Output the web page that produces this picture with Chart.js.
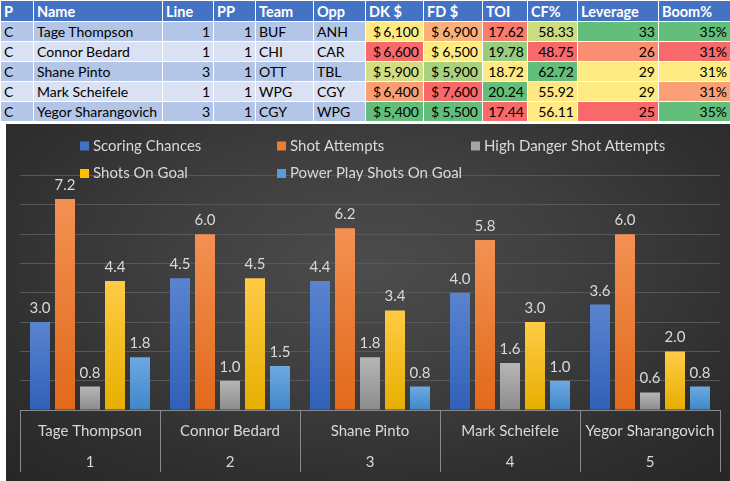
<!DOCTYPE html>
<html>
<head>
<meta charset="utf-8">
<script src="https://cdn.jsdelivr.net/npm/chart.js@4.4.1/dist/chart.umd.min.js"></script>
<style>
  html, body { margin: 0; padding: 0; background: #fff; width: 730px; height: 481px; overflow: hidden; }
  body { position: relative; font-family: Lato, "Liberation Sans", sans-serif; }
  #tbl { position: absolute; left: 0; top: 0; width: 730px; border-collapse: collapse; table-layout: fixed; font-size: 14px; color: #000; }
  #tbl td, #tbl th { border: 1px solid #fff; padding: 0 3px; height: 20px; line-height: 19px; white-space: nowrap; overflow: hidden; box-sizing: border-box; }
  #tbl th { background: #4472C4; color: #fff; font-weight: bold; text-align: left; height: 21px; font-size: 14.5px; }
  #tbl td.r { text-align: right; }
  #tbl td.acc { padding: 0; }
  #tbl td.acc div { display: flex; justify-content: space-between; padding: 0 4px 0 7px; }
  #chartWrap { position: absolute; left: 6px; top: 124px; width: 724px; height: 357px;
    background: radial-gradient(ellipse 75% 85% at 50% 40%, #4c4c4c 0%, #404040 35%, #303030 70%, #252525 100%); }
</style>
</head>
<body>
<table id="tbl"></table>
<div id="chartWrap"><canvas id="c" width="724" height="357"></canvas></div>
<script>
// ---------- table data ----------
const headers = ["P", "Name", "Line", "PP", "Team", "Opp", "DK $", "FD $", "TOI", "CF%", "Leverage", "Boom%"];
const positions = ["C", "C", "C", "C", "C"];
const names = ["Tage Thompson", "Connor Bedard", "Shane Pinto", "Mark Scheifele", "Yegor Sharangovich"];
const lines = [1, 1, 3, 1, 3];
const pp = [1, 1, 1, 1, 1];
const teams = ["BUF", "CHI", "OTT", "WPG", "CGY"];
const opps = ["ANH", "CAR", "TBL", "CGY", "WPG"];
const dkSalary = ["6,100", "6,600", "5,900", "6,400", "5,400"];
const fdSalary = ["6,900", "6,500", "5,900", "7,600", "5,500"];
const toi = ["17.62", "19.78", "18.72", "20.24", "17.44"];
const cfPct = ["58.33", "48.75", "62.72", "55.92", "56.11"];
const leverage = [33, 26, 29, 29, 25];
const boomPct = ["35%", "31%", "31%", "31%", "35%"];

// ---------- chart data ----------
const categoryNames = ["Tage Thompson", "Connor Bedard", "Shane Pinto", "Mark Scheifele", "Yegor Sharangovich"];
const categoryNumbers = ["1", "2", "3", "4", "5"];
const seriesNames = ["Scoring Chances", "Shot Attempts", "High Danger Shot Attempts", "Shots On Goal", "Power Play Shots On Goal"];
const scoringChances = [3.0, 4.5, 4.4, 4.0, 3.6];
const shotAttempts = [7.2, 6.0, 6.2, 5.8, 6.0];
const highDanger = [0.8, 1.0, 1.8, 1.6, 0.6];
const shotsOnGoal = [4.4, 4.5, 3.4, 3.0, 2.0];
const ppShotsOnGoal = [1.8, 1.5, 0.8, 1.0, 0.8];

// ---------- styles ----------
const colWidths = [33, 129, 51, 42, 58, 52, 58, 59, 45, 50, 81, 72];
const rowBg = ["#B4C6E7", "#D9E1F2", "#B4C6E7", "#D9E1F2", "#B4C6E7"];
const dkColors = ["#FFE984", "#F8696B", "#D2DE81", "#FB9D75", "#63BE7B"];
const fdColors = ["#FBB079", "#FFEB84", "#A8D27F", "#F8696B", "#63BE7B"];
const toiColors = ["#F97D6E", "#96CD7E", "#FFE984", "#63BE7B", "#F8696B"];
const cfColors = ["#CBDC81", "#F8696B", "#63BE7B", "#FFE883", "#FFEA84"];
const levColors = ["#63BE7B", "#FA8E72", "#FFEB84", "#FFEB84", "#F8696B"];
const boomColors = ["#63BE7B", "#F8696B", "#FFEB84", "#FB9F76", "#63BE7B"];

// build table
(function () {
  const t = document.getElementById('tbl');
  let h = '<colgroup>' + colWidths.map(w => '<col style="width:' + w + 'px">').join('') + '</colgroup>';
  h += '<tr>' + headers.map(x => '<th>' + x + '</th>').join('') + '</tr>';
  for (let i = 0; i < names.length; i++) {
    const bg = rowBg[i];
    h += '<tr>' +
      '<td style="background:' + bg + '">' + positions[i] + '</td>' +
      '<td style="background:' + bg + '">' + names[i] + '</td>' +
      '<td class="r" style="background:' + bg + '">' + lines[i] + '</td>' +
      '<td class="r" style="background:' + bg + '">' + pp[i] + '</td>' +
      '<td style="background:' + bg + '">' + teams[i] + '</td>' +
      '<td style="background:' + bg + '">' + opps[i] + '</td>' +
      '<td class="acc" style="background:' + dkColors[i] + '"><div><span>$</span><span>' + dkSalary[i] + '</span></div></td>' +
      '<td class="acc" style="background:' + fdColors[i] + '"><div><span>$</span><span>' + fdSalary[i] + '</span></div></td>' +
      '<td class="r" style="background:' + toiColors[i] + '">' + toi[i] + '</td>' +
      '<td class="r" style="background:' + cfColors[i] + '">' + cfPct[i] + '</td>' +
      '<td class="r" style="background:' + levColors[i] + '">' + leverage[i] + '</td>' +
      '<td class="r" style="background:' + boomColors[i] + '">' + boomPct[i] + '</td>' +
      '</tr>';
  }
  t.innerHTML = h;
})();

const gradStops = [
  ["#5A84D0", "#3060B8"],
  ["#F39152", "#E2691B"],
  ["#B6B6B6", "#8C8C8C"],
  ["#FFCB45", "#E8AE00"],
  ["#6DA9E2", "#4186CA"]
];
const legendColors = ["#4472C4", "#ED7D31", "#A5A5A5", "#FFC000", "#5B9BD5"];

function barGradient(idx) {
  return function (ctx) {
    const chart = ctx.chart;
    const area = chart.chartArea;
    if (!area || ctx.type !== 'data') return gradStops[idx][1];
    const y = chart.scales.y;
    const top = y.getPixelForValue(ctx.raw);
    const bottom = y.getPixelForValue(0);
    const g = chart.ctx.createLinearGradient(0, top, 0, bottom);
    g.addColorStop(0, gradStops[idx][0]);
    g.addColorStop(1, gradStops[idx][1]);
    return g;
  };
}

const seriesData = [scoringChances, shotAttempts, highDanger, shotsOnGoal, ppShotsOnGoal];
const FONT = "Lato, 'Liberation Sans', sans-serif";
const TXT = "#D9D9D9";

const valueLabels = {
  id: 'valueLabels',
  afterDatasetsDraw(chart) {
    const c = chart.ctx;
    c.save();
    c.font = "15px " + FONT;
    c.fillStyle = TXT;
    c.textAlign = 'center';
    c.textBaseline = 'alphabetic';
    chart.data.datasets.forEach((ds, di) => {
      const meta = chart.getDatasetMeta(di);
      meta.data.forEach((el, i) => {
        c.fillText(Number(ds.data[i]).toFixed(1), el.x, el.y - 9);
      });
    });
    c.restore();
  }
};

// two-level category labels drawn at the x scale's category positions
const categoryLabels = {
  id: 'categoryLabels',
  afterDraw(chart) {
    const c = chart.ctx;
    const xs = chart.scales.x;
    const base = xs.top;
    c.save();
    c.font = "15px " + FONT;
    c.fillStyle = TXT;
    c.textAlign = 'center';
    c.textBaseline = 'middle';
    chart.data.labels.forEach((lab, i) => {
      const x = xs.getPixelForValue(i);
      c.fillText(lab[0], x, base + 21);
      c.fillText(lab[1], x, base + 52);
    });
    c.restore();
  }
};

const customLegend = {
  id: 'customLegend',
  afterDraw(chart) {
    const c = chart.ctx;
    const cols = [74, 271, 465];
    const rows = [22, 49.5];
    c.save();
    c.font = "15px " + FONT;
    c.textBaseline = 'middle';
    c.textAlign = 'left';
    chart.data.datasets.forEach((ds, i) => {
      const x = cols[i % 3];
      const y = rows[Math.floor(i / 3)];
      c.fillStyle = legendColors[i];
      c.fillRect(x, y - 4.5, 9, 9);
      c.fillStyle = TXT;
      c.fillText(ds.label, x + 13, y);
    });
    c.restore();
  }
};

new Chart(document.getElementById('c'), {
  type: 'bar',
  data: {
    labels: categoryNames.map((n, i) => [n, categoryNumbers[i]]),
    datasets: seriesNames.map((name, i) => ({
      label: name,
      data: seriesData[i],
      backgroundColor: barGradient(i),
      borderWidth: 0,
      categoryPercentage: 125 / 140,
      barPercentage: 0.8
    }))
  },
  options: {
    responsive: false,
    animation: false,
    layout: { padding: { left: 14, right: 10, top: 51.6, bottom: 9 } },
    plugins: { legend: { display: false }, tooltip: { enabled: false } },
    scales: {
      x: {
        grid: { drawOnChartArea: false, tickLength: 62, color: '#8A8A8A', offset: true },
        border: { color: '#8A8A8A' },
        ticks: { display: false }
      },
      y: {
        min: 0, max: 8,
        ticks: { display: false, stepSize: 1 },
        grid: { color: '#585858', drawTicks: false },
        border: { display: false }
      }
    }
  },
  plugins: [valueLabels, categoryLabels, customLegend]
});
</script>
</body>
</html>
